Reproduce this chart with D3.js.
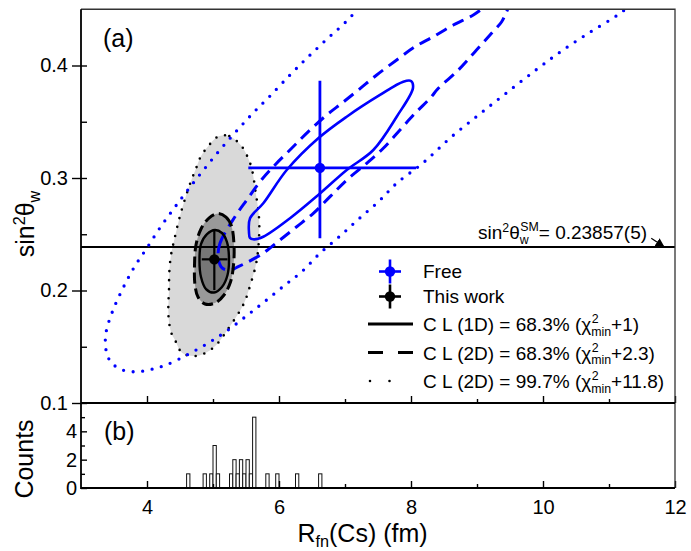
<!DOCTYPE html>
<html><head><meta charset="utf-8">
<script src="https://cdn.jsdelivr.net/npm/d3@7"></script>
<style>body{margin:0;background:#fff}svg{display:block}text{font-family:Arial,"Liberation Sans",sans-serif;fill:#000}</style>
</head><body><svg id="c" width="691" height="551"></svg>
<script>
// ---------- data (R_fn in fm, sin^2 theta_W) ----------
const freeSolid=[[5.545,0.2520],[5.561,0.2642],[5.762,0.2775],[6.117,0.3071],[6.595,0.3353],[7.026,0.3545],[7.530,0.3738],[7.883,0.3856],[8.000,0.3862],[8.030,0.3800],[7.783,0.3545],[7.429,0.3249],[7.026,0.3071],[6.595,0.2849],[6.167,0.2642],[5.762,0.2478],[5.611,0.2455],[5.560,0.2468]];
const freeDashed=[[5.080,0.2286],[5.106,0.2420],[5.333,0.2656],[5.511,0.2804],[5.712,0.2967],[5.939,0.3116],[6.192,0.3264],[6.444,0.3412],[6.723,0.3560],[6.950,0.3664],[7.202,0.3782],[7.480,0.3916],[7.783,0.4049],[8.061,0.4167],[8.338,0.4256],[8.641,0.4360],[8.944,0.4449],[9.15,0.4530],[9.35,0.4575],[9.47,0.4530],[9.424,0.4449],[9.374,0.4389],[9.197,0.4271],[8.970,0.4123],[8.717,0.3960],[8.414,0.3797],[8.288,0.3708],[8.061,0.3575],[7.833,0.3427],[7.580,0.3264],[7.329,0.3131],[7.026,0.2982],[6.773,0.2834],[6.520,0.2686],[6.268,0.2567],[6.015,0.2449],[5.738,0.2323],[5.383,0.2212],[5.258,0.2182],[5.140,0.2200]];
const freeDotted=[[7.30,0.4570],[7.015,0.4389],[6.723,0.4233],[6.420,0.4064],[6.167,0.3916],[5.864,0.3729],[5.611,0.3580],[5.348,0.3412],[5.095,0.3243],[4.848,0.3065],[4.606,0.2884],[4.405,0.2727],[4.202,0.2562],[3.995,0.2375],[3.808,0.2209],[3.632,0.2016],[3.480,0.1818],[3.379,0.1625],[3.379,0.1471],[3.455,0.1362],[3.632,0.1293],[3.859,0.1278],[4.086,0.1302],[4.288,0.1338],[4.606,0.1427],[4.935,0.1536],[5.208,0.1640],[5.520,0.1780],[5.788,0.1904],[6.091,0.2049],[6.344,0.2167],[6.621,0.2331],[6.924,0.2484],[7.202,0.2633],[7.505,0.2789],[7.783,0.2953],[8.186,0.3136],[8.606,0.3362],[9.035,0.3566],[9.439,0.3753],[9.879,0.3954],[10.268,0.4123],[10.702,0.4292],[11.132,0.4449],[11.40,0.4570]];
const twDotted=[[5.136,0.3378],[5.247,0.3373],[5.420,0.3293],[5.511,0.3204],[5.586,0.3086],[5.652,0.2849],[5.686,0.2716],[5.702,0.2567],[5.662,0.2265],[5.550,0.2020],[5.485,0.1907],[5.398,0.1809],[5.217,0.1649],[5.080,0.1536],[4.944,0.1465],[4.742,0.1418],[4.535,0.1444],[4.424,0.1560],[4.374,0.1613],[4.333,0.1723],[4.323,0.1856],[4.333,0.2004],[4.338,0.2162],[4.364,0.2316],[4.409,0.2440],[4.500,0.2662],[4.611,0.2878],[4.677,0.2988],[4.738,0.3077],[4.814,0.3189],[4.929,0.3284],[5.056,0.3362]];
const twDashed=[[5.076,0.2684],[5.197,0.2653],[5.280,0.2573],[5.318,0.2404],[5.311,0.2227],[5.265,0.2076],[5.167,0.1960],[5.030,0.1889],[4.879,0.1880],[4.773,0.1942],[4.727,0.2049],[4.720,0.2227],[4.742,0.2404],[4.818,0.2547],[4.939,0.2644]];
const twSolid=[[5.030,0.2538],[5.136,0.2511],[5.212,0.2431],[5.242,0.2289],[5.220,0.2138],[5.136,0.2031],[5.015,0.1982],[4.894,0.2013],[4.818,0.2120],[4.795,0.2271],[4.818,0.2413],[4.909,0.2502]];
const freePoint=[6.62,0.309], freeErrR=[5.535,8.076], freeErrS=[0.2464,0.3865];
const twPoint=[5.02,0.2277], twErrR=[4.83,5.22], twErrS=[0.2004,0.2530];
const smValue=0.23857;
const histStart=[4.60,4.85,4.95,5.00,5.05,5.25,5.30,5.35,5.40,5.45,5.50,5.55,5.60,5.80,5.95,6.25,6.60];
const histCount=[1,1,1,3,1,1,2,1,2,1,2,1,5,1,1,1,1];
const binWidth=0.05;
const xMajor=[4,6,8,10,12], xMinor=[5,7,9,11];
const yMajor=[0.1,0.2,0.3,0.4], yMinor=[0.15,0.25,0.35];
const cMajor=[0,2,4], cMinor=[1,3,5];

// ---------- layout ----------
const svg=d3.select('#c');
const L=81,R=675,T1=9.25,B1=403,B2=488;
const x=d3.scaleLinear().domain([3,12]).range([L,R]);
const y=d3.scaleLinear().domain([0.1,0.45]).range([B1,T1]);
const yc=d3.scaleLinear().domain([0,6]).range([B2,B1]);
const BLUE='#0000ff';

const defs=svg.append('defs');
defs.append('clipPath').attr('id','clipA').append('rect').attr('x',L).attr('y',T1).attr('width',R-L).attr('height',B1-T1);
defs.append('marker').attr('id','arr').attr('viewBox','0 0 10 10').attr('refX',9).attr('refY',5)
  .attr('markerWidth',9).attr('markerHeight',9).attr('markerUnits','userSpaceOnUse').attr('orient','auto')
  .append('path').attr('d','M0,0L10,5L0,10z').attr('fill','#000');

const closed=d3.line().x(d=>x(d[0])).y(d=>y(d[1])).curve(d3.curveCatmullRomClosed.alpha(0.5));
const open=d3.line().x(d=>x(d[0])).y(d=>y(d[1])).curve(d3.curveCatmullRom.alpha(0.5));

const gA=svg.append('g').attr('clip-path','url(#clipA)');
gA.append('path').attr('d',closed(twDotted)).attr('fill','#d9d9d9');
gA.append('path').attr('d',closed(twDashed)).attr('fill','#999');
gA.append('path').attr('d',closed(twSolid)).attr('fill','#777');
gA.append('path').attr('d',closed(twDotted)).attr('fill','none').attr('stroke','#000').attr('stroke-width',2.6).attr('stroke-linecap','round').attr('stroke-dasharray','0 9');
gA.append('line').attr('x1',L).attr('x2',R).attr('y1',y(smValue)).attr('y2',y(smValue)).attr('stroke','#000').attr('stroke-width',2);
gA.append('path').attr('d',open(freeDotted)).attr('fill','none').attr('stroke',BLUE).attr('stroke-width',3.3).attr('stroke-linecap','round').attr('stroke-dasharray','0 9.6');
gA.append('path').attr('d',closed(freeDashed)).attr('fill','none').attr('stroke',BLUE).attr('stroke-width',3).attr('stroke-dasharray','12 7');
gA.append('path').attr('d',closed(freeSolid)).attr('fill','none').attr('stroke',BLUE).attr('stroke-width',2.6);
gA.append('path').attr('d',closed(twDashed)).attr('fill','none').attr('stroke','#000').attr('stroke-width',3).attr('stroke-dasharray','11 5');
gA.append('path').attr('d',closed(twSolid)).attr('fill','none').attr('stroke','#000').attr('stroke-width',2.4);

function pointErr(g,p,er,es,col,w){
  g.append('line').attr('x1',x(er[0])).attr('x2',x(er[1])).attr('y1',y(p[1])).attr('y2',y(p[1])).attr('stroke',col).attr('stroke-width',w);
  g.append('line').attr('x1',x(p[0])).attr('x2',x(p[0])).attr('y1',y(es[0])).attr('y2',y(es[1])).attr('stroke',col).attr('stroke-width',w);
  g.append('circle').attr('cx',x(p[0])).attr('cy',y(p[1])).attr('r',5.2).attr('fill',col);
}
pointErr(gA,freePoint,freeErrR,freeErrS,BLUE,2.8);
pointErr(gA,twPoint,twErrR,twErrS,'#000',2.2);

// ---------- histogram ----------
const gB=svg.append('g');
gB.selectAll('rect.bar').data(histStart).join('rect').attr('class','bar')
  .attr('x',d=>x(d)).attr('width',d=>x(d+binWidth)-x(d))
  .attr('y',(d,i)=>yc(histCount[i])).attr('height',(d,i)=>yc(0)-yc(histCount[i]))
  .attr('fill','#fff').attr('stroke','#111').attr('stroke-width',1);

// ---------- axes ----------
function clean(g){g.select('.domain').remove();g.selectAll('.tick line').attr('stroke','#000').attr('stroke-width',1.4);}
const fs=20;
const ff='Arial, Liberation Sans, sans-serif';
svg.append('g').attr('transform',`translate(${L},0)`).call(d3.axisLeft(y).tickValues(yMajor).tickSize(9).tickPadding(4).tickFormat(d3.format('.1f')))
  .call(clean).call(g=>g.selectAll('text').attr('font-size',fs).attr('font-family',ff));
svg.append('g').attr('transform',`translate(${L},0)`).call(d3.axisRight(y).tickValues(yMajor.concat(yMinor)).tickSize(6).tickFormat('')).call(clean);
svg.append('g').attr('transform',`translate(${L},0)`).call(d3.axisRight(yc).tickValues(cMajor).tickSize(6).tickFormat('')).call(clean);
svg.append('g').attr('transform',`translate(${L},0)`).call(d3.axisRight(yc).tickValues(cMinor).tickSize(4).tickFormat('')).call(clean);
svg.append('g').attr('transform',`translate(${L},0)`).call(d3.axisLeft(yc).tickValues(cMajor).tickSize(0).tickPadding(4).tickFormat(d3.format('d')))
  .call(clean).call(g=>g.selectAll('text').attr('font-size',fs).attr('font-family',ff));
[B1,B2].forEach(yy=>{
  svg.append('g').attr('transform',`translate(0,${yy})`).call(d3.axisTop(x).tickValues(xMajor).tickSize(7).tickFormat('')).call(clean);
  svg.append('g').attr('transform',`translate(0,${yy})`).call(d3.axisTop(x).tickValues(xMinor).tickSize(4).tickFormat('')).call(clean);
});
svg.append('g').attr('transform',`translate(0,${B2})`).call(d3.axisBottom(x).tickValues(xMajor).tickSize(0).tickPadding(12).tickFormat(d3.format('d')))
  .call(clean).call(g=>g.selectAll('text').attr('font-size',fs).attr('font-family',ff));

svg.append('path').attr('d',`M${L},${T1}H${R}V${B2}`).attr('fill','none').attr('stroke','#333').attr('stroke-width',1.3);
svg.append('path').attr('d',`M${L},${T1}V${B2}H${R}M${L},${B1}H${R}`).attr('fill','none').attr('stroke','#000').attr('stroke-width',1.8);

// ---------- rich text helper ----------
function rich(parent,x0,y0,parts,size,anchor,subK){
  const t=parent.append('text').attr('x',x0).attr('y',y0).attr('font-size',size);
  if(anchor) t.attr('text-anchor',anchor);
  const sk=subK||0.22;
  let shift=0, pendDx=0; const sfs=size*0.65;
  parts.forEach(p=>{
    if(typeof p==='string'){t.append('tspan').attr('dy',-shift).attr('dx',pendDx).attr('font-size',size).text(p);shift=0;pendDx=0;}
    else if(p.sup){const s=-size*0.38;t.append('tspan').attr('dy',s-shift).attr('font-size',sfs).text(p.sup);shift=s;}
    else if(p.sub){const s=size*sk;t.append('tspan').attr('dy',s-shift).attr('font-size',sfs).text(p.sub);shift=s;}
    else if(p.stack){
      const before=t.node().getComputedTextLength();const s=size*0.26;
      t.append('tspan').attr('dy',s-shift).attr('font-size',sfs).text(p.stack[1]);shift=s;
      const subW=t.node().getComputedTextLength()-before;
      const sup=parent.append('text').attr('x',x0+before+0.5).attr('y',y0-size*0.42).attr('font-size',sfs).text(p.stack[0]);
      const supW=sup.node().getComputedTextLength()+0.5;
      pendDx=Math.max(0,supW-subW);
    }
  });
  return t;
}

svg.append('text').attr('x',103).attr('y',47).attr('font-size',25).text('(a)');
svg.append('text').attr('x',104).attr('y',440).attr('font-size',25).text('(b)');

rich(svg,362.5,542,['R',{sub:'fn'},'(Cs) (fm)'],25,'middle',0.18);
const gyt=svg.append('g').attr('transform','translate(34,224) rotate(-90)');
rich(gyt,0,0,['sin',{sup:'2'},'θ',{sub:'w'}],25,'middle');
svg.append('g').attr('transform','translate(33,459) rotate(-90)').append('text').attr('text-anchor','middle').attr('font-size',25).text('Counts');

rich(svg,478,239,['sin',{sup:'2'},'θ',{stack:['SM','w']},'= 0.23857(5)'],19);
svg.append('line').attr('x1',x(11.64)).attr('y1',y(0.2465)).attr('x2',x(11.83)).attr('y2',y(smValue)-0.5)
  .attr('stroke','#000').attr('stroke-width',1.2).attr('marker-end','url(#arr)');

// ---------- legend ----------
const lx=390, tx=423;
const legBase=[278,303,331,359.5,388];
const lg=svg.append('g');
[[BLUE,legBase[0],'Free'],['#000',legBase[1],'This work']].forEach(([c,b,label])=>{
  const cy=b-6.5;
  lg.append('line').attr('x1',lx-11).attr('x2',lx+11).attr('y1',cy).attr('y2',cy).attr('stroke',c).attr('stroke-width',2.6);
  lg.append('line').attr('x1',lx).attr('x2',lx).attr('y1',cy-12).attr('y2',cy+12).attr('stroke',c).attr('stroke-width',2.6);
  lg.append('circle').attr('cx',lx).attr('cy',cy).attr('r',5.2).attr('fill',c);
  lg.append('text').attr('x',tx).attr('y',b).attr('font-size',19).text(label);
});
const styles=[{da:null,w:2.8,cap:'butt'},{da:'15 15',w:3,cap:'butt'},{da:'0 19.5',w:2.6,cap:'round'}];
const clText=[['C L (1D) = 68.3% (χ',{stack:['2','min']},'+1)'],['C L (2D) = 68.3% (χ',{stack:['2','min']},'+2.3)'],['C L (2D) = 99.7% (χ',{stack:['2','min']},'+11.8)']];
styles.forEach((s,i)=>{
  const b=legBase[i+2], cy=b-7;
  const ln=lg.append('line').attr('x1',s.cap==='round'?370:368).attr('x2',s.cap==='round'?409:413).attr('y1',cy).attr('y2',cy)
    .attr('stroke','#000').attr('stroke-width',s.w).attr('stroke-linecap',s.cap);
  if(s.da) ln.attr('stroke-dasharray',s.da);
  rich(lg,tx,b,clText[i],19);
});
</script></body></html>
